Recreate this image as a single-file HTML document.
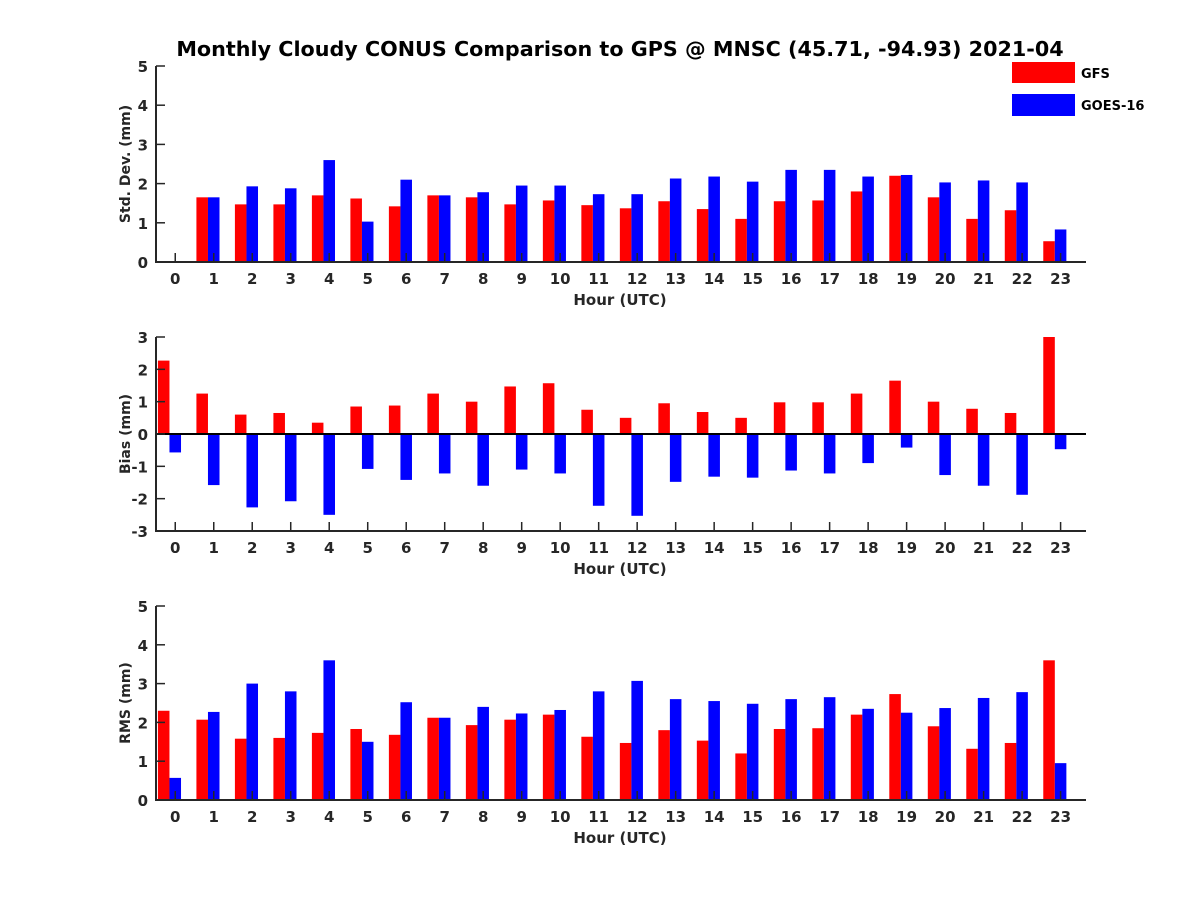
<!DOCTYPE html>
<html><head><meta charset="utf-8"><style>
body{margin:0;background:#fff;}
svg text{font-family:"DejaVu Sans","Liberation Sans",sans-serif;font-weight:bold;fill:#262626;}
</style></head><body>
<svg id="chart" width="1200" height="900" xmlns="http://www.w3.org/2000/svg">
<rect width="1200" height="900" fill="#fff"/>
<text x="620" y="56" text-anchor="middle" font-size="20.7" style="fill:#000">Monthly Cloudy CONUS Comparison to GPS @ MNSC (45.71, -94.93) 2021-04</text>
<g>
<rect x="1012" y="62" width="63" height="21" fill="#ff0000"/>
<text x="1081" y="78" font-size="13" style="fill:#000">GFS</text>
<rect x="1012" y="94" width="63" height="22" fill="#0000ff"/>
<text x="1081" y="110" font-size="13" style="fill:#000">GOES-16</text>
</g>
</svg>
<script>
const hours = [0,1,2,3,4,5,6,7,8,9,10,11,12,13,14,15,16,17,18,19,20,21,22,23];
const stdGfs = [null,1.65,1.47,1.47,1.7,1.62,1.42,1.7,1.65,1.47,1.57,1.45,1.37,1.55,1.35,1.1,1.55,1.57,1.8,2.2,1.65,1.1,1.32,0.53];
const stdGoes = [null,1.65,1.93,1.88,2.6,1.03,2.1,1.7,1.78,1.95,1.95,1.73,1.73,2.13,2.18,2.05,2.35,2.35,2.18,2.22,2.03,2.08,2.03,0.83];
const biasGfs = [2.27,1.25,0.6,0.65,0.35,0.85,0.88,1.25,1.0,1.47,1.57,0.75,0.5,0.95,0.68,0.5,0.98,0.98,1.25,1.65,1.0,0.78,0.65,3.0];
const biasGoes = [-0.57,-1.58,-2.27,-2.08,-2.5,-1.08,-1.42,-1.22,-1.6,-1.1,-1.22,-2.22,-2.53,-1.48,-1.32,-1.35,-1.13,-1.22,-0.9,-0.42,-1.27,-1.6,-1.88,-0.47];
const rmsGfs = [2.3,2.07,1.58,1.6,1.73,1.83,1.68,2.12,1.93,2.07,2.2,1.63,1.47,1.8,1.53,1.2,1.83,1.85,2.2,2.73,1.9,1.32,1.47,3.6];
const rmsGoes = [0.57,2.27,3.0,2.8,3.6,1.5,2.52,2.12,2.4,2.23,2.32,2.8,3.07,2.6,2.55,2.48,2.6,2.65,2.35,2.25,2.37,2.63,2.78,0.95];
const stdTicks = [0,1,2,3,4,5];
const biasTicks = [-3,-2,-1,0,1,2,3];
const rmsTicks = [0,1,2,3,4,5];

const NS = "http://www.w3.org/2000/svg";
const svg = document.getElementById('chart');
const X0 = 156, X1 = 1086, XMIN = -0.5, XMAX = 23.66;
function xs(v){ return X0 + (v - XMIN) / (XMAX - XMIN) * (X1 - X0); }
function mk(tag, attrs, parent){
  const e = document.createElementNS(NS, tag);
  for (const k in attrs) e.setAttribute(k, attrs[k]);
  (parent || svg).appendChild(e);
  return e;
}
function panel(key, top, bottom, ymin, ymax, ticks, gfs, goes, ylabel){
  const g = mk('g', {});
  
  
  const ys = v => bottom - (v - ymin) / (ymax - ymin) * (bottom - top);
  const bw = 0.3 * (X1 - X0) / (XMAX - XMIN);
  hours.forEach((h, i) => {
    if (gfs[i] !== null) {
      const y0 = ys(0), y1 = ys(gfs[i]);
      const r = mk('rect', {x: xs(h - 0.3) - bw/2, y: Math.min(y0,y1), width: bw, height: Math.abs(y1-y0), fill:'#ff0000'}, g);
      
      
    }
    if (goes[i] !== null) {
      const y0 = ys(0), y1 = ys(goes[i]);
      const r = mk('rect', {x: xs(h) - bw/2, y: Math.min(y0,y1), width: bw, height: Math.abs(y1-y0), fill:'#0000ff'}, g);
      
      
    }
  });
  if (ymin < 0) {
    const z = mk('line', {x1: X0, x2: X1, y1: ys(0), y2: ys(0), stroke:'#000', 'stroke-width':2}, g);
    
    
  }
  const ax = mk('path', {d:`M${X0},${top} L${X0},${bottom} L${X1},${bottom}`, fill:'none', stroke:'#262626', 'stroke-width':2}, g);
  
  
  ticks.forEach(t => {
    const y = ys(t);
    mk('line', {x1: X0, x2: X0 + 9, y1: y, y2: y, stroke:'#262626', 'stroke-width':1.5}, g);
    const tl = mk('text', {x: X0 - 8, y: y + 6, 'text-anchor':'end', 'font-size':15}, g);
    tl.textContent = t;
    
    
  });
  hours.forEach(h => {
    const x = xs(h);
    mk('line', {x1: x, x2: x, y1: bottom, y2: bottom - 9, stroke:'#262626', 'stroke-width':1.5}, g);
    const tl = mk('text', {x: x, y: bottom + 22, 'text-anchor':'middle', 'font-size':15}, g);
    tl.textContent = h;
    
    
  });
  const xl = mk('text', {x: 620, y: bottom + 43, 'text-anchor':'middle', 'font-size':15}, g);
  xl.textContent = 'Hour (UTC)';
  
  
  const yc = (top + bottom) / 2;
  const yl = mk('text', {x: 0, y: 0, 'text-anchor':'middle', 'font-size':14, transform:`translate(130,${yc}) rotate(-90)`}, g);
  yl.textContent = ylabel;
  
  
}
panel('std', 66, 262, 0, 5, stdTicks, stdGfs, stdGoes, 'Std. Dev. (mm)');
panel('bias', 337, 531, -3, 3, biasTicks, biasGfs, biasGoes, 'Bias (mm)');
panel('rms', 606, 800, 0, 5, rmsTicks, rmsGfs, rmsGoes, 'RMS (mm)');
</script>
</body></html>
